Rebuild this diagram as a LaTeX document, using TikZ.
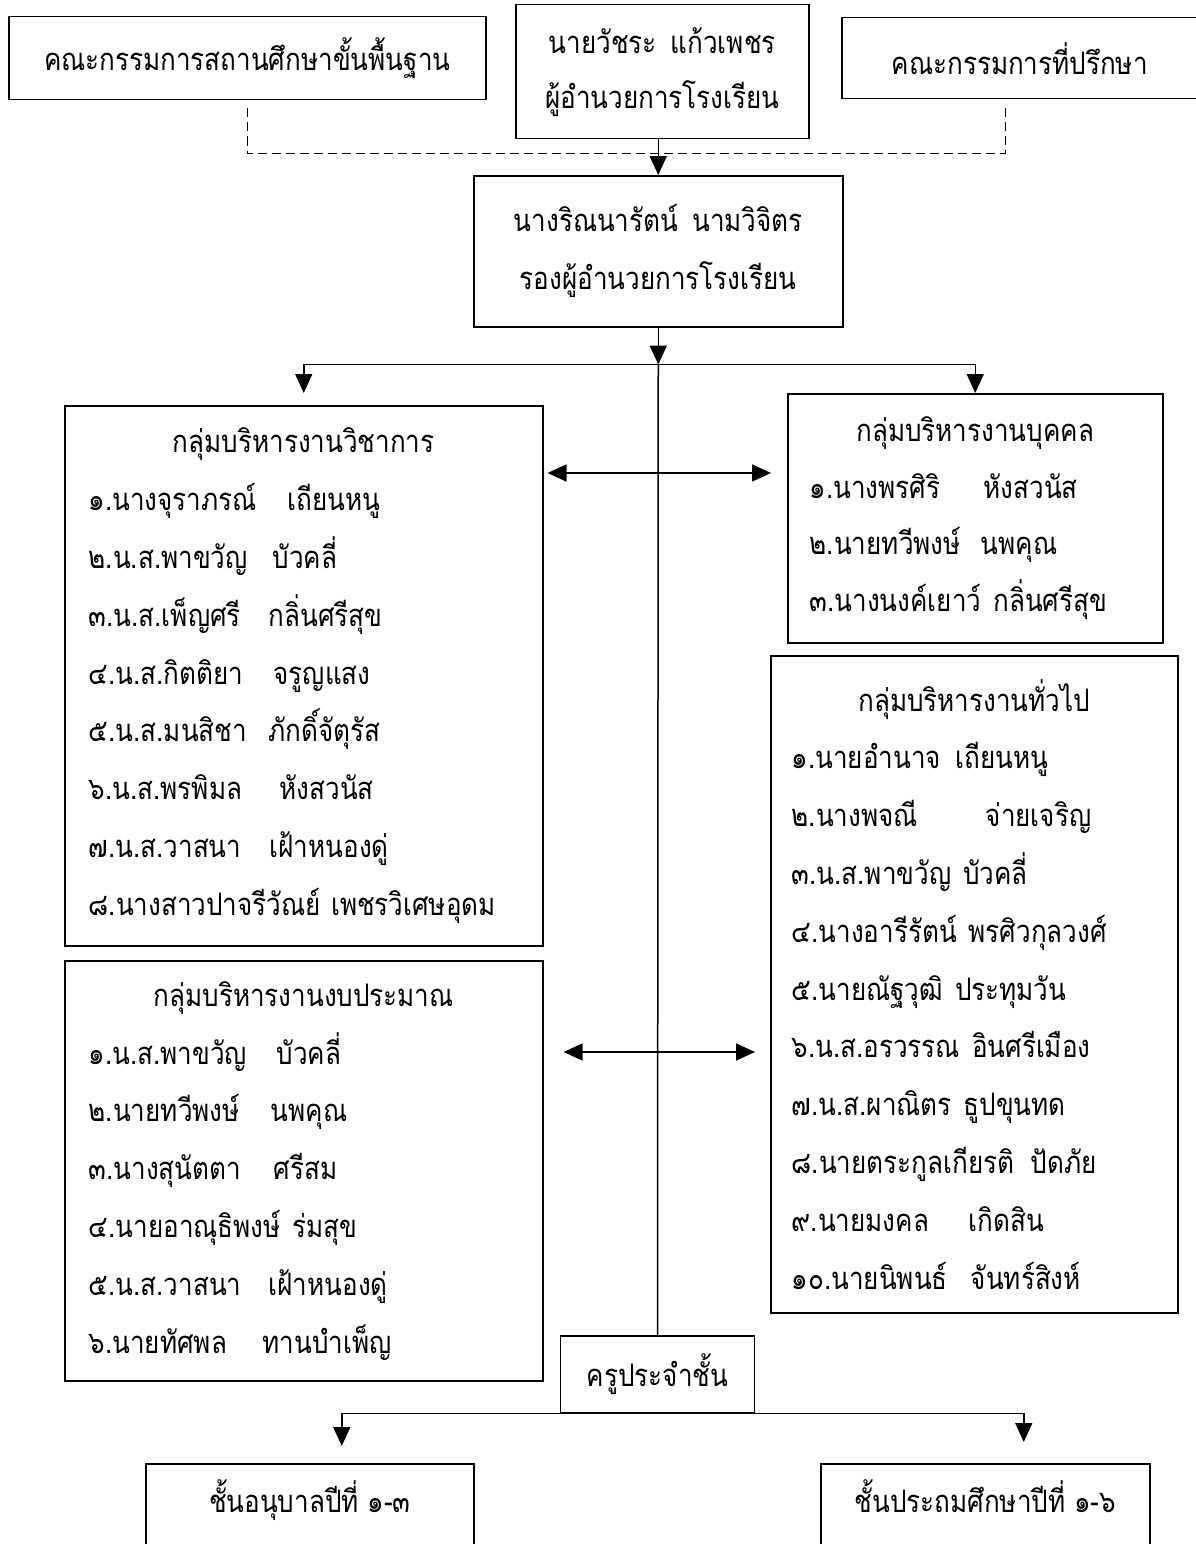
\documentclass[tikz,border=0pt]{standalone}
\usepackage{fontspec}
\newfontfamily\thai[Script=Thai, FakeStretch=0.84]{Loma}
\usetikzlibrary{arrows.meta}

% second name at a column, or after a small gap if the first is too wide
\newcommand{\namecol}[2]{\leavevmode\setbox0=\hbox{#2\hspace{12pt}}\ifdim\wd0<#1\relax\makebox[#1][l]{#2}\else\box0\fi}

\tikzset{
every picture/.style={
line width=1.5pt
},
>={Triangle[length=19pt,width=17pt]},
box/.style={draw, inner sep=0pt, font=\thai\fontsize{31}{55}\selectfont},
grp/.style={draw, anchor=north west, align=left, inner ysep=0pt, font=\thai\fontsize{31}{57.8}\selectfont}
}

\begin{document}
\begin{tikzpicture}[x=1pt, y=-1pt]
  \useasboundingbox (0,0) rectangle (1196,1544);

  % top row
  \node (board) [box, anchor=north west, minimum width=477pt, minimum height=83pt] at (8,16) {คณะกรรมการสถานศึกษาขั้นพื้นฐาน};
  \node (director) [box, anchor=north west, align=center, minimum width=293pt, minimum height=134pt] at (515,4) {นายวัชระ\hspace{14pt}แก้วเพชร\\ผู้อำนวยการโรงเรียน};
  \node (advisers) [box, anchor=north west, minimum width=364pt, minimum height=81pt] at (841,17) {\hspace{-8pt}คณะกรรมการที่ปรึกษา};

  \node (deputy) [box, anchor=north west, align=center, minimum width=369pt, minimum height=151pt, font=\thai\fontsize{31}{58}\selectfont] at (473,175) {นางริณนารัตน์\hspace{14pt}นามวิจิตร\\รองผู้อำนวยการโรงเรียน};

  \draw [dashed, dash pattern=on 9pt off 5pt, line width=1.3pt] ([yshift=-8pt]board.south) -- ++(0,45) -| ([xshift=-18pt,yshift=-8pt]advisers.south);
  \draw [->] (director.south -| deputy.north) -- (deputy.north);

  % groups
  \node (grpacad) [grp, inner xsep=24pt, text width=430pt, minimum height=540pt] at (64,405) {\null\hfill กลุ่มบริหารงานวิชาการ\hfill\null\\
    \namecol{199pt}{๑.นางจุราภรณ์}เถียนหนู\\
    \namecol{184pt}{๒.น.ส.พาขวัญ}บัวคลี่\\
    \namecol{180pt}{๓.น.ส.เพ็ญศรี}กลิ่นศรีสุข\\
    \namecol{185pt}{๔.น.ส.กิตติยา}จรูญแสง\\
    \namecol{180pt}{๕.น.ส.มนสิชา}ภักดิ์จัตุรัส\\
    \namecol{191pt}{๖.น.ส.พรพิมล}หังสวนัส\\
    \namecol{181pt}{๗.น.ส.วาสนา}เฝ้าหนองดู่\\
    ๘.นางสาวปาจรีวัณย์ เพชรวิเศษอุดม};

  \node (grppers) [grp, inner xsep=22pt, text width=331pt, minimum height=249pt, font=\thai\fontsize{31}{56.5}\selectfont] at (787,393) {\null\hfill กลุ่มบริหารงานบุคคล\hfill\null\\
    \namecol{174pt}{๑.นางพรศิริ}หังสวนัส\\
    \namecol{171pt}{๒.นายทวีพงษ์}นพคุณ\\
    \namecol{160pt}{๓.นางนงค์เยาว์}กลิ่นศรีสุข};

  \node (grpgen) [grp, inner xsep=21pt, text width=365pt, minimum height=657pt] at (770,655) {\null\hfill กลุ่มบริหารงานทั่วไป\hfill\null\\
    \namecol{164pt}{๑.นายอำนาจ}เถียนหนู\\
    \namecol{194pt}{๒.นางพจณี}จ่ายเจริญ\\
    \namecol{167pt}{๓.น.ส.พาขวัญ}บัวคลี่\\
    \namecol{154pt}{๔.นางอารีรัตน์}พรศิวกุลวงศ์\\
    \namecol{149pt}{๕.นายณัฐวุฒิ}ประทุมวัน\\
    \namecol{162pt}{๖.น.ส.อรวรรณ}อินศรีเมือง\\
    \namecol{167pt}{๗.น.ส.ผาณิตร}ธูปขุนทด\\
    \namecol{239pt}{๘.นายตระกูลเกียรติ}ปัดภัย\\
    \namecol{177pt}{๙.นายมงคล}เกิดสิน\\
    \namecol{179pt}{๑๐.นายนิพนธ์}จันทร์สิงห์};

  \node (grpbudget) [grp, inner xsep=24pt, text width=430pt, minimum height=420pt] at (64,960) {\null\hfill กลุ่มบริหารงานงบประมาณ\hfill\null\\
    \namecol{188pt}{๑.น.ส.พาขวัญ}บัวคลี่\\
    \namecol{182pt}{๒.นายทวีพงษ์}นพคุณ\\
    \namecol{185pt}{๓.นางสุนัตตา}ศรีสม\\
    \namecol{194pt}{๔.นายอาณุธิพงษ์}ร่มสุข\\
    \namecol{180pt}{๕.น.ส.วาสนา}เฝ้าหนองดู่\\
    \namecol{174pt}{๖.นายทัศพล}ทานบำเพ็ญ};

  \node (teacher) [box, anchor=north, minimum width=194pt, minimum height=77pt] at (657.5,1335) {ครูประจำชั้น};

  \node (kinder) [box, anchor=north west, minimum width=328pt, inner ysep=12pt, text height=37pt, text depth=60pt] at (145,1463) {ชั้นอนุบาลปีที่ ๑-๓};
  \node (primary) [box, anchor=north west, minimum width=329pt, inner ysep=12pt, text height=37pt, text depth=60pt] at (820,1463) {ชั้นประถมศึกษาปีที่ ๑-๖};

  % connectors
  \coordinate (hub) at ([yshift=-37pt]deputy.south);
  \draw [->] (deputy.south) -- (hub);
  \draw [->, shorten >=12pt] (hub) -| (grpacad.north);
  \draw [->] (hub) -| (grppers.north);
  \draw (hub) -- (teacher.north);

  \draw [<->, shorten <=4pt, shorten >=16pt] ([yshift=-68pt]grpacad.north east) -- ([yshift=-80pt]grppers.north west);
  \draw [<->, shorten <=20pt, shorten >=15pt] ([yshift=-92pt]grpbudget.north east) -- ([yshift=-397pt]grpgen.north west);

  \draw [->, shorten >=17pt] (teacher.south) -| ([xshift=32pt]kinder.north);
  \draw [->, shorten >=21pt] (teacher.south) -| ([xshift=38.5pt]primary.north);

\end{tikzpicture}
\end{document}
